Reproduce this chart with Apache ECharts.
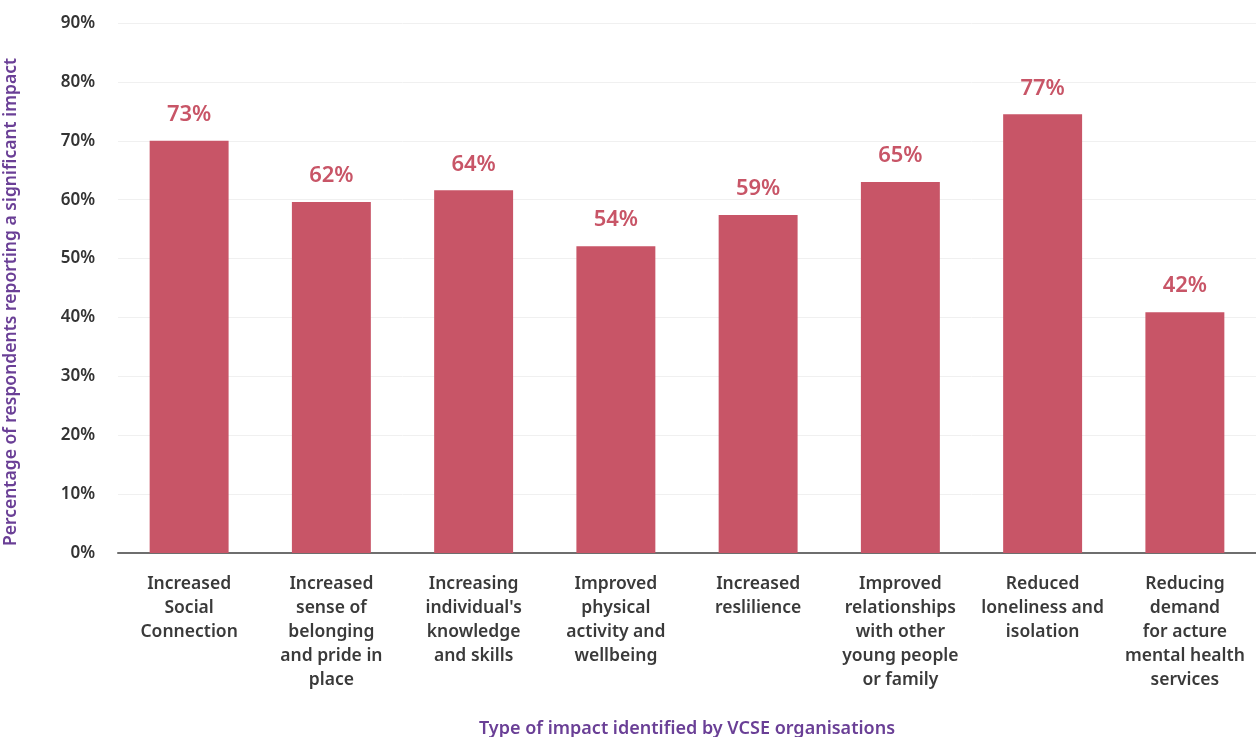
<!DOCTYPE html>
<html>
<head>
<meta charset="utf-8">
<title>Impact chart</title>
<script src="https://cdn.jsdelivr.net/npm/echarts@6/dist/echarts.min.js"></script>
<style>
  html, body { margin: 0; padding: 0; background: #fff; }
  #chart { width: 1256px; height: 737px; }
</style>
</head>
<body>
<div id="chart"></div>
<script>
// categories (line breaks as in the picture)
var categories = [
    'Increased\nSocial\nConnection',
    'Increased\nsense of\nbelonging\nand pride in\nplace',
    'Increasing\nindividual\'s\nknowledge\nand skills',
    'Improved\nphysical\nactivity and\nwellbeing',
    'Increased\nreslilience',
    'Improved\nrelationships\nwith other\nyoung people\nor family',
    'Reduced\nloneliness and\nisolation',
    'Reducing\ndemand\nfor acture\nmental health\nservices'
];
// bar heights as drawn
var barValues = [70, 59.6, 61.6, 52.1, 57.4, 63, 74.5, 40.9];
// printed labels above the bars
var barLabels = ['73%', '62%', '64%', '54%', '59%', '65%', '77%', '42%'];
var yTicks = [0, 10, 20, 30, 40, 50, 60, 70, 80, 90];

var font = 'Noto Sans';
var chart = echarts.init(document.getElementById('chart'));

chart.setOption({
    animation: false,
    grid: { left: 118, right: 0, top: 23, bottom: 184, outerBoundsMode: 'none', containLabel: false },
    xAxis: {
        type: 'category',
        data: categories,
        name: 'Type of impact identified by VCSE organisations',
        nameLocation: 'middle',
        nameGap: 167,
        nameTextStyle: { color: '#6a3f96', fontSize: 18, fontWeight: 600, fontFamily: font },
        axisLine: { lineStyle: { color: '#6e6e6e', width: 2 } },
        axisTick: { show: false },
        axisLabel: {
            interval: 0,
            margin: 19,
            color: '#3a3a3a',
            fontSize: 17.5,
            fontWeight: 600,
            fontFamily: font,
            lineHeight: 24
        }
    },
    yAxis: {
        type: 'value',
        min: yTicks[0],
        max: yTicks[yTicks.length - 1],
        interval: 10,
        name: 'Percentage of respondents reporting a significant impact',
        nameLocation: 'middle',
        nameGap: 98,
        nameTextStyle: { color: '#6a3f96', fontSize: 17.5, fontWeight: 600, fontFamily: font, padding: [0, 28, 0, 0] },
        axisLine: { show: false },
        axisTick: { show: false },
        splitLine: { lineStyle: { color: '#f0f0f0', width: 1 } },
        axisLabel: {
            margin: 23,
            color: '#333',
            fontSize: 17,
            fontWeight: 600,
            fontFamily: font,
            padding: [0, 0, 8, 0],
            formatter: '{value}%'
        }
    },
    series: [{
        type: 'bar',
        data: barValues,
        barWidth: '55.5%',
        itemStyle: { color: '#c85567' },
        label: {
            show: true,
            position: 'top',
            distance: 15,
            color: '#c85567',
            fontSize: 22,
            fontWeight: 600,
            fontFamily: font,
            formatter: function (p) { return barLabels[p.dataIndex]; }
        }
    }]
});
</script>
</body>
</html>
